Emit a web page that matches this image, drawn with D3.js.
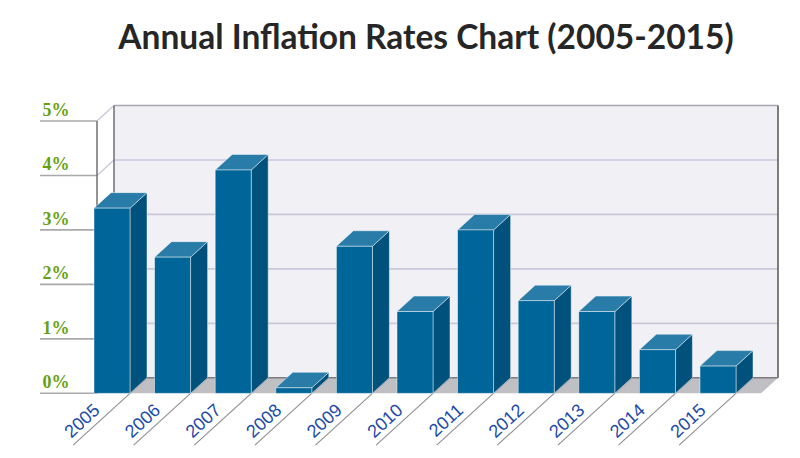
<!DOCTYPE html>
<html>
<head>
<meta charset="utf-8">
<script src="https://cdn.jsdelivr.net/npm/d3@7"></script>
<style>
  html, body { margin: 0; padding: 0; background: #ffffff; }
  svg { display: block; }
</style>
</head>
<body>
<svg id="chart" width="800" height="458"></svg>
<script>
// ---- data ----
const years = ["2005","2006","2007","2008","2009","2010","2011","2012","2013","2014","2015"];
const rates = [3.4, 2.5, 4.1, 0.1, 2.7, 1.5, 3.0, 1.7, 1.5, 0.8, 0.5];
const yTicks = [0, 1, 2, 3, 4, 5];
const yTickLabels = ["0%", "1%", "2%", "3%", "4%", "5%"];
const title = "Annual Inflation Rates Chart (2005-2015)";

// ---- layout ----
const frontLeft = 97, frontRight = 761;
const DX = 17, DY = -15.5;           // 3D depth offset
const yBottom = 393.3, yTop = 121;
const labelLeft = 40;

const svg = d3.select("#chart");

const y = d3.scaleLinear().domain([0, 5]).range([yBottom, yTop]);
const x = d3.scaleBand().domain(years).range([94, 736]).paddingInner(0.406).paddingOuter(0);
const bw = x.bandwidth();

// title
svg.append("text")
  .attr("x", 426).attr("y", 49)
  .attr("text-anchor", "middle")
  .style("font-family", "Lato, 'Open Sans', sans-serif")
  .style("font-weight", "bold")
  .style("font-size", "33.5px")
  .style("fill", "#262626")
  .text(title);

// back wall
svg.append("rect")
  .attr("x", frontLeft + DX).attr("y", y(5) + DY)
  .attr("width", frontRight - frontLeft)
  .attr("height", y(0) - y(5))
  .attr("fill", "#f0f0f5");

// grid lines (front stub, side diagonal, back)
const grid = svg.append("g");
yTicks.forEach((t) => {
  const yy = y(t);
  grid.append("line")
    .attr("x1", labelLeft).attr("x2", frontLeft)
    .attr("y1", yy).attr("y2", yy)
    .attr("stroke", "#a9a9ad").attr("stroke-width", 1.6);
  grid.append("line")
    .attr("x1", frontLeft).attr("x2", frontLeft + DX)
    .attr("y1", yy).attr("y2", yy + DY)
    .attr("stroke", "#c9c8d8").attr("stroke-width", 1.4);
  if (t > 0) {
    grid.append("line")
      .attr("x1", frontLeft + DX).attr("x2", frontRight + DX)
      .attr("y1", yy + DY).attr("y2", yy + DY)
      .attr("stroke", t === 5 ? "#a9a8b4" : "#c9c8d8").attr("stroke-width", 1.6);
  }
});

// floor
svg.append("polygon")
  .attr("points", [
    [frontLeft, y(0)], [frontRight, y(0)],
    [frontRight + DX, y(0) + DY], [frontLeft + DX, y(0) + DY]
  ].map(p => p.join(",")).join(" "))
  .attr("fill", "#c0bfc4");

// wall edges
svg.append("line")
  .attr("x1", frontLeft + DX).attr("x2", frontRight + DX)
  .attr("y1", y(0) + DY).attr("y2", y(0) + DY)
  .attr("stroke", "#7d7d80").attr("stroke-width", 1.5);
svg.append("line")
  .attr("x1", frontLeft).attr("x2", frontLeft)
  .attr("y1", y(5)).attr("y2", y(0))
  .attr("stroke", "#6f6f72").attr("stroke-width", 1.5);
svg.append("line")
  .attr("x1", frontLeft + DX).attr("x2", frontLeft + DX)
  .attr("y1", y(5) + DY).attr("y2", y(0) + DY)
  .attr("stroke", "#6f6f72").attr("stroke-width", 1.5);
svg.append("line")
  .attr("x1", frontRight + DX).attr("x2", frontRight + DX)
  .attr("y1", y(5) + DY).attr("y2", y(0) + DY)
  .attr("stroke", "#6f6f72").attr("stroke-width", 1.8);

// y tick labels
svg.append("g").selectAll("text")
  .data(yTicks)
  .join("text")
  .attr("x", 42.5)
  .attr("y", d => y(d) - 5)
  .style("font-family", "'Liberation Serif', 'DejaVu Serif', serif")
  .style("font-weight", "bold")
  .style("font-size", "18px")
  .style("fill", "#6b9f12")
  .text((d, i) => yTickLabels[i]);

// x tick lines & labels
const len = Math.hypot(DX, DY);
const ux = -DX / len, uy = -DY / len;    // towards viewer (down-left)
const nx = DY / len, ny = -DX / len;     // up-left normal
const ang = -Math.atan2(-DY, DX) * 180 / Math.PI;

const xg = svg.append("g");
years.forEach((yr) => {
  const px = x(yr) + bw + DX, py = y(0) + DY;
  xg.append("line")
    .attr("x1", px).attr("y1", py)
    .attr("x2", px + ux * 100).attr("y2", py + uy * 100)
    .attr("stroke", "#8e8e92").attr("stroke-width", 1.1);
  const tx = px + ux * 57 + nx * 6, ty = py + uy * 57 + ny * 6;
  xg.append("text")
    .attr("transform", `translate(${tx},${ty}) rotate(${ang})`)
    .attr("text-anchor", "end")
    .style("font-family", "'Liberation Sans', Arial, sans-serif")
    .style("font-size", "18px")
    .style("fill", "#1c4aa6")
    .text(yr);
});

// bars
const bars = svg.append("g").selectAll("g")
  .data(years.map((yr, i) => ({ yr, v: rates[i] })))
  .join("g");

bars.append("polygon")   // side
  .attr("points", d => {
    const x0 = x(d.yr) + bw, yt = y(d.v), yb = y(0);
    return [[x0, yt], [x0 + DX, yt + DY], [x0 + DX, yb + DY], [x0, yb]].map(p => p.join(",")).join(" ");
  })
  .attr("fill", "#00527c")
  .attr("stroke", "rgba(255,255,255,0.55)").attr("stroke-width", 0.8);

bars.append("polygon")   // top
  .attr("points", d => {
    const x0 = x(d.yr), yt = y(d.v);
    return [[x0, yt], [x0 + DX, yt + DY], [x0 + bw + DX, yt + DY], [x0 + bw, yt]].map(p => p.join(",")).join(" ");
  })
  .attr("fill", "#2a7ca8")
  .attr("stroke", "rgba(255,255,255,0.55)").attr("stroke-width", 0.8);

bars.append("rect")      // front
  .attr("x", d => x(d.yr))
  .attr("y", d => y(d.v))
  .attr("width", bw)
  .attr("height", d => y(0) - y(d.v))
  .attr("fill", "#006699")
  .attr("stroke", "rgba(255,255,255,0.55)").attr("stroke-width", 0.8);
</script>
</body>
</html>
